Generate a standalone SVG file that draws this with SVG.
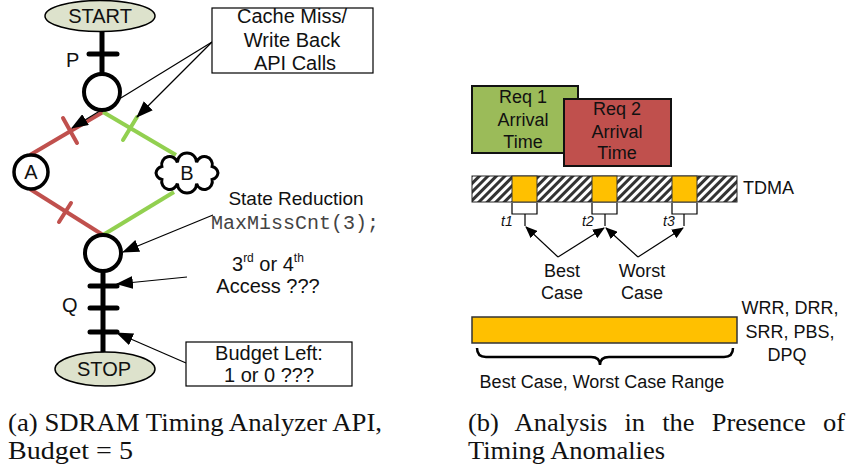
<svg xmlns="http://www.w3.org/2000/svg" width="846" height="467" viewBox="0 0 846 467">
<style>
.t{font-family:"Liberation Sans",Arial,sans-serif;fill:#111}
.cap{font-family:"Liberation Serif","Times New Roman",serif;font-size:25px;fill:#111}
.blk{stroke:#000;fill:none}
.red{stroke:#c0504d;stroke-width:4;fill:none}
.grn{stroke:#92d050;stroke-width:4;fill:none}
.ptr{stroke:#000;stroke-width:1.2;fill:none}
.slot{fill:#ffc000;stroke:#333;stroke-width:1}
</style>
<defs>
<marker id="ah" viewBox="0 0 16 12" refX="15" refY="6" markerWidth="17" markerHeight="13" markerUnits="userSpaceOnUse" orient="auto"><path d="M0,0 L16,6 L0,12 Z" fill="#000"/></marker>
<marker id="ahs" viewBox="0 0 12 10" refX="11" refY="5" markerWidth="12" markerHeight="10" markerUnits="userSpaceOnUse" orient="auto"><path d="M0,0 L12,5 L0,10 Z" fill="#000"/></marker>
<pattern id="hatch" patternUnits="userSpaceOnUse" width="6" height="6" patternTransform="rotate(45)"><rect width="6" height="6" fill="#fff"/><rect width="3" height="6" fill="#333"/></pattern>
</defs>

<!-- (a) connectors -->
<g id="connectors-a">
<line class="blk" x1="102" y1="31" x2="102" y2="75" stroke-width="5"/>
<line class="blk" x1="89" y1="54" x2="117" y2="54" stroke-width="5" stroke-linecap="round"/>
<line class="blk" x1="103" y1="270" x2="103" y2="353" stroke-width="5"/>
<line class="blk" x1="90" y1="286" x2="117" y2="286" stroke-width="5" stroke-linecap="round"/>
<line class="blk" x1="90" y1="308" x2="117" y2="308" stroke-width="5" stroke-linecap="round"/>
<line class="blk" x1="90" y1="332" x2="117" y2="332" stroke-width="5" stroke-linecap="round"/>
<line class="red" x1="103" y1="112" x2="30" y2="155"/>
<line class="red" x1="63" y1="118" x2="77" y2="143" stroke-linecap="round"/>
<line class="grn" x1="103" y1="112" x2="176" y2="155"/>
<line class="grn" x1="137" y1="117" x2="123" y2="140" stroke-linecap="round"/>
<line class="red" x1="30" y1="189" x2="103" y2="235"/>
<line class="red" x1="59" y1="222" x2="71" y2="203" stroke-linecap="round"/>
<line class="grn" x1="174" y1="192" x2="103" y2="235"/>
<line class="ptr" x1="212" y1="42" x2="72" y2="128" marker-end="url(#ah)"/>
<line class="ptr" x1="212" y1="42" x2="137" y2="117" marker-end="url(#ah)"/>
<line class="ptr" x1="213" y1="215" x2="123" y2="252" marker-end="url(#ah)"/>
<line class="ptr" x1="187" y1="277" x2="117" y2="284" marker-end="url(#ah)"/>
<line class="ptr" x1="186" y1="363" x2="117" y2="333" marker-end="url(#ah)"/>
</g>

<g id="start">
<ellipse cx="100" cy="16" rx="55" ry="15.5" fill="#dde2cc" stroke="#000" stroke-width="1.5"/>
<text class="t" x="100" y="23" font-size="20" text-anchor="middle">START</text>
</g>
<g id="p-label"><text class="t" x="66" y="67" font-size="20">P</text></g>
<g id="state1"><circle cx="102" cy="92" r="18" fill="#fff" stroke="#000" stroke-width="4"/></g>
<g id="nodeA">
<circle cx="31" cy="172" r="17" fill="#fff" stroke="#000" stroke-width="3.5"/>
<text class="t" x="31" y="179" font-size="20" text-anchor="middle">A</text>
</g>
<g id="nodeB">
<path d="M156,173 A8,8 0 0 1 161.9,166.5 A8,8 0 0 1 177.4,162.5 A9,9 0 0 1 196.6,162.5 A8,8 0 0 1 212.1,166.5 A8,8 0 0 1 218,173 A8,8 0 0 1 212.1,179.5 A8,8 0 0 1 196.6,183.5 A9,9 0 0 1 177.4,183.5 A8,8 0 0 1 161.9,179.5 A8,8 0 0 1 156,173 Z" fill="#fff" stroke="#000" stroke-width="3"/>
<text class="t" x="187" y="180" font-size="20" text-anchor="middle">B</text>
</g>
<g id="state2"><circle cx="103" cy="253" r="18" fill="#fff" stroke="#000" stroke-width="4"/></g>
<g id="q-label"><text class="t" x="62" y="312" font-size="20">Q</text></g>
<g id="stop">
<ellipse cx="105" cy="369" rx="50" ry="17" fill="#dde2cc" stroke="#000" stroke-width="1.5"/>
<text class="t" x="104" y="376" font-size="20" text-anchor="middle">STOP</text>
</g>
<g id="cache-box">
<rect x="212" y="8" width="161" height="65" fill="#fff" stroke="#000" stroke-width="1.2"/>
<text class="t" x="292" y="23" font-size="20" text-anchor="middle">Cache Miss/</text>
<text class="t" x="292" y="47" font-size="20" text-anchor="middle">Write Back</text>
<text class="t" x="295" y="70" font-size="20" text-anchor="middle">API Calls</text>
</g>
<g id="state-reduction">
<text class="t" x="296" y="205" font-size="19" text-anchor="middle">State Reduction</text>
<text x="295" y="229" font-size="20" text-anchor="middle" font-family="'Liberation Mono','Courier New',monospace" fill="#444">MaxMissCnt(3);</text>
</g>
<g id="access">
<text class="t" x="232" y="271" font-size="20">3<tspan font-size="12" dy="-9">rd</tspan><tspan dy="9"> or 4</tspan><tspan font-size="12" dy="-9">th</tspan></text>
<text class="t" x="268" y="293" font-size="20" text-anchor="middle">Access ???</text>
</g>
<g id="budget-box">
<rect x="186" y="342" width="166" height="44" fill="#fff" stroke="#000" stroke-width="1.2"/>
<text class="t" x="269" y="360" font-size="20" text-anchor="middle">Budget Left:</text>
<text class="t" x="269" y="382" font-size="20" text-anchor="middle">1 or 0 ???</text>
</g>
<g id="caption-a">
<text class="cap" x="8" y="431" textLength="374" lengthAdjust="spacingAndGlyphs">(a) SDRAM Timing Analyzer API,</text>
<text class="cap" x="8" y="459" textLength="125" lengthAdjust="spacingAndGlyphs">Budget = 5</text>
</g>

<!-- (b) -->
<g id="req1">
<rect x="472" y="86" width="106" height="67" fill="#9bbb59" stroke="#111" stroke-width="2"/>
<text class="t" x="523" y="103" font-size="18" text-anchor="middle">Req 1</text>
<text class="t" x="523" y="126" font-size="18" text-anchor="middle">Arrival</text>
<text class="t" x="523" y="148" font-size="18" text-anchor="middle">Time</text>
</g>
<g id="req2">
<rect x="564" y="99" width="107" height="67" fill="#c0504d" stroke="#111" stroke-width="2"/>
<text class="t" x="617" y="115" font-size="18" text-anchor="middle">Req 2</text>
<text class="t" x="617" y="138" font-size="18" text-anchor="middle">Arrival</text>
<text class="t" x="617" y="159" font-size="18" text-anchor="middle">Time</text>
</g>
<g id="tdma">
<rect x="472" y="176" width="265" height="26" fill="url(#hatch)" stroke="#222" stroke-width="1"/>
<rect class="slot" x="512" y="176" width="25" height="26"/>
<rect class="slot" x="592" y="176" width="25" height="26"/>
<rect class="slot" x="672" y="176" width="25" height="26"/>
<text class="t" x="743" y="194" font-size="18">TDMA</text>
</g>
<g id="slot-brackets">
<path class="blk" stroke-width="1.2" d="M512,203 V214 H537 V203 M525,214 V226"/>
<path class="blk" stroke-width="1.2" d="M592,203 V214 H617 V203 M605,214 V226"/>
<path class="blk" stroke-width="1.2" d="M672,203 V214 H697 V203 M684,214 V226"/>
<text class="t" x="501" y="226" font-size="14" font-style="italic">t1</text>
<text class="t" x="582" y="226" font-size="14" font-style="italic">t2</text>
<text class="t" x="663" y="226" font-size="14" font-style="italic">t3</text>
</g>
<g id="connectors-b">
<line class="ptr" x1="558" y1="257" x2="526" y2="227" marker-end="url(#ahs)"/>
<line class="ptr" x1="558" y1="257" x2="604" y2="228" marker-end="url(#ahs)"/>
<line class="ptr" x1="638" y1="257" x2="606" y2="228" marker-end="url(#ahs)"/>
<line class="ptr" x1="638" y1="257" x2="683" y2="228" marker-end="url(#ahs)"/>
</g>
<g id="best-case">
<text class="t" x="562" y="277" font-size="18" text-anchor="middle">Best</text>
<text class="t" x="562" y="299" font-size="18" text-anchor="middle">Case</text>
</g>
<g id="worst-case">
<text class="t" x="642" y="277" font-size="18" text-anchor="middle">Worst</text>
<text class="t" x="642" y="299" font-size="18" text-anchor="middle">Case</text>
</g>
<g id="range-bar">
<rect x="472" y="317" width="265" height="26" fill="#ffc000" stroke="#333" stroke-width="1.5"/>
<text class="t" x="790" y="314" font-size="18" text-anchor="middle">WRR, DRR,</text>
<text class="t" x="790" y="338" font-size="18" text-anchor="middle">SRR, PBS,</text>
<text class="t" x="787" y="361" font-size="18" text-anchor="middle">DPQ</text>
</g>
<g id="range-brace">
<path class="blk" stroke-width="2.5" d="M477,348 Q477,357 486,357 L591,357 Q600,357 600,365 Q600,357 609,357 L724,357 Q733,357 733,348"/>
<text class="t" x="602" y="388" font-size="18" text-anchor="middle">Best Case, Worst Case Range</text>
</g>
<g id="caption-b">
<text class="cap" x="468" y="431" textLength="377" lengthAdjust="spacingAndGlyphs" word-spacing="10">(b) Analysis in the Presence of</text>
<text class="cap" x="468" y="459" textLength="197" lengthAdjust="spacingAndGlyphs">Timing Anomalies</text>
</g>
</svg>
